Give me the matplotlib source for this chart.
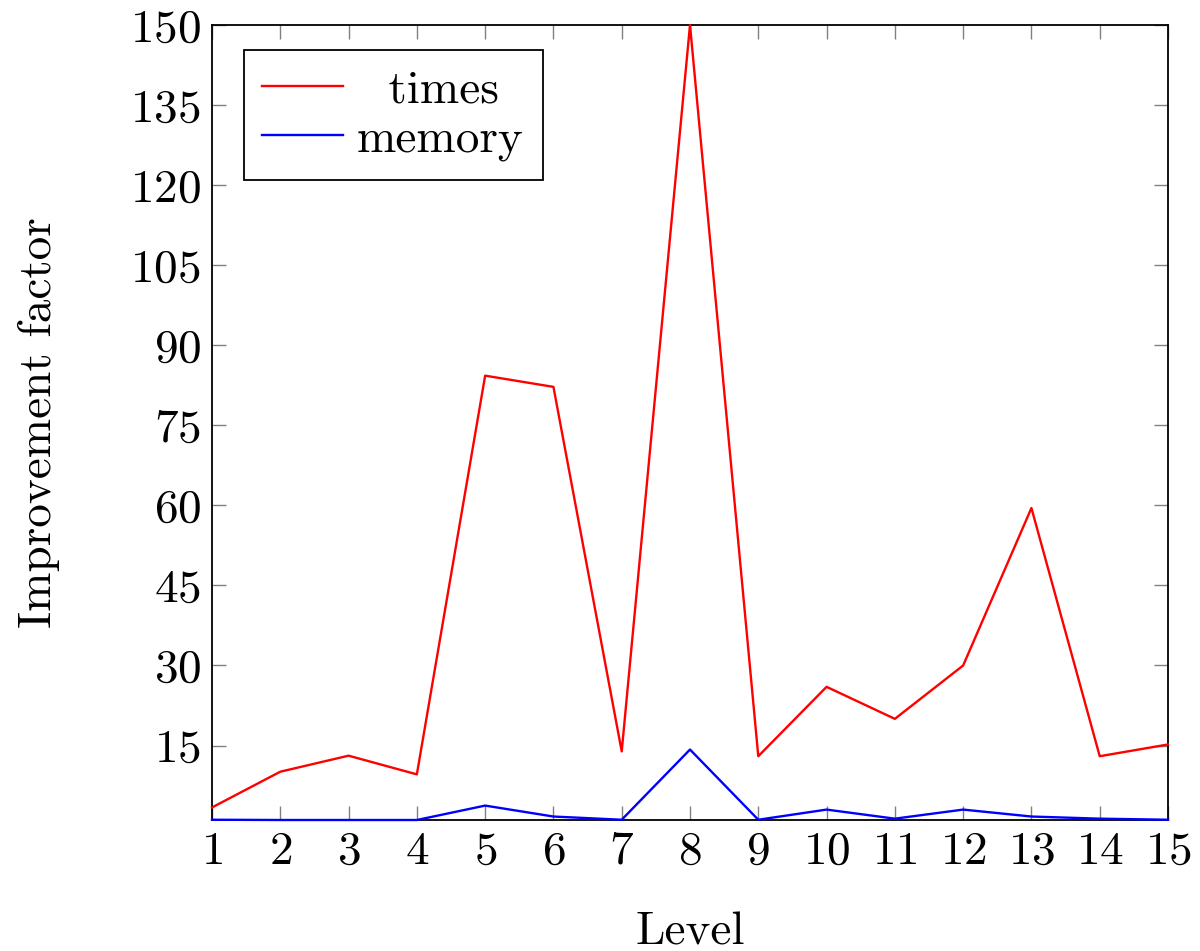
import numpy as np
import matplotlib.pyplot as plt

plt.rcParams['font.family'] = 'cmr10'
plt.rcParams['axes.formatter.use_mathtext'] = True
plt.rcParams['font.size'] = 34

# data
levels = np.arange(1, 16)
times = [3.4, 10.1, 13.1, 9.6, 84.3, 82.2, 13.9, 150, 13.0, 26.0, 20.0, 30.0, 59.5, 13.0, 15.2]
memory = [1.1, 1.05, 1.05, 1.05, 3.75, 1.7, 1.1, 14.25, 1.1, 3.0, 1.3, 3.0, 1.7, 1.3, 1.1]

fig = plt.figure(figsize=(12, 9.51), dpi=100)
ax = fig.add_axes([212/1200, 1 - 820/951, (1168-212)/1200, (820-25)/951])

ax.plot(levels, times, color='#ff0000', lw=1.7, label='  times', clip_on=False, zorder=3)
ax.plot(levels, memory, color='#0000ff', lw=1.7, label='memory', clip_on=False, zorder=3)

ax.set_xlim(1, 15)
ax.set_ylim(1.05, 150)
ax.set_xticks(levels)
ax.set_yticks(np.arange(15, 151, 15))
ax.tick_params(direction='in', top=True, right=True, length=10, width=1,
               color='#808080', pad=8)
for s in ax.spines.values():
    s.set_linewidth(1.3)

ax.set_xlabel('Level', labelpad=28)
ax.set_ylabel('Improvement factor', labelpad=50)

leg = ax.legend(loc='upper left', bbox_to_anchor=(0.033, 0.968), fancybox=False,
                edgecolor='black', framealpha=1, handlelength=1.7,
                borderpad=0.4, labelspacing=0.15, handletextpad=0.3,
                borderaxespad=0)
leg.get_frame().set_linewidth(1.3)

fig.savefig('out.png', dpi=100)
